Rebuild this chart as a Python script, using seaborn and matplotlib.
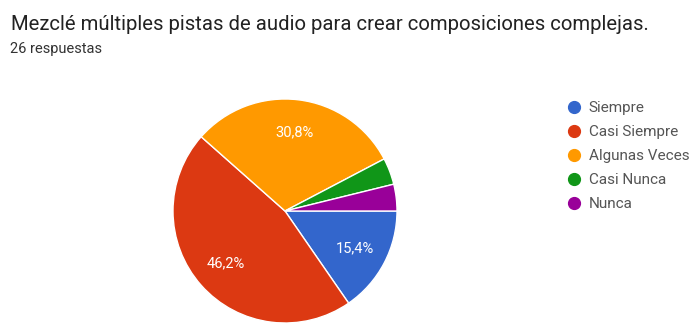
import matplotlib
matplotlib.use("Agg")
import matplotlib.pyplot as plt
import seaborn as sns
from matplotlib.lines import Line2D

categories = ["Siempre", "Casi Siempre", "Algunas Veces", "Casi Nunca", "Nunca"]
counts = [4, 12, 8, 1, 1]
colors = ["#3366CC", "#DC3912", "#FF9900", "#109618", "#990099"]
title = "Mezclé múltiples pistas de audio para crear composiciones complejas."
subtitle = "26 respuestas"

sns.set_theme(style="white")
plt.rcParams['font.family'] = ['Roboto', 'DejaVu Sans']

W, H = 691, 325
fig = plt.figure(figsize=(W / 100, H / 100), dpi=100)
fig.patch.set_facecolor("white")
cx, cy, r = 285, 211, 112
ax = fig.add_axes([(cx - r) / W, (H - cy - r) / H, 2 * r / W, 2 * r / H])

def fmt(p):
    if p < 5:
        return ""
    return f"{p:.1f}%".replace(".", ",")

wedges, texts, autotexts = ax.pie(
    counts, colors=colors, startangle=0, counterclock=False,
    autopct=fmt, pctdistance=0.71,
    wedgeprops=dict(edgecolor="white", linewidth=1),
    textprops=dict(color="white", fontsize=10.5),
)
ax.set_aspect("equal")
ax.set_xlim(-1, 1)
ax.set_ylim(-1, 1)

fig.text(11 / W, 1 - 25 / H, title, fontsize=14.6, color="#222222",
         ha="left", va="center")
fig.text(10 / W, 1 - 49 / H, subtitle, fontsize=10.5, color="#333333",
         ha="left", va="center")

handles = [Line2D([0], [0], marker="o", linestyle="", markersize=8.5,
                  markerfacecolor=c, markeredgecolor=c) for c in colors]
leg = fig.legend(handles, categories, loc="upper left",
                 bbox_to_anchor=(560 / W, 1 - 95 / H), frameon=False,
                 fontsize=11, labelspacing=0.66, handletextpad=0.48,
                 handlelength=1.0, borderaxespad=0)
for t in leg.get_texts():
    t.set_color("#555555")

fig.savefig("out.png", dpi=100, facecolor="white")
